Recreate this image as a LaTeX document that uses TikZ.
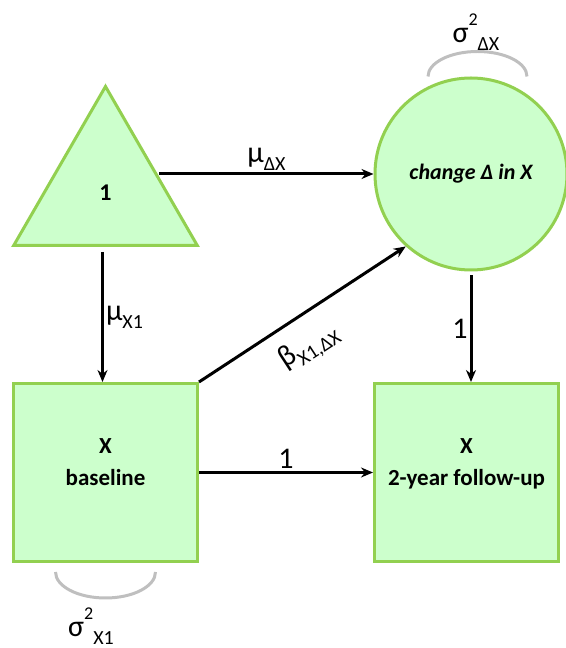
\documentclass[tikz,border=0pt]{standalone}
\usepackage{fontspec}
\setmainfont{Carlito}
\usetikzlibrary{arrows.meta}
\usetikzlibrary{shapes.geometric}
\usetikzlibrary{positioning}
\definecolor{boxfill}{HTML}{CCFFCC}
\definecolor{boxline}{HTML}{92D050}
\definecolor{vargray}{HTML}{BFBFBF}
\def\sublab#1{\raisebox{-0.55ex}{\fontsize{20}{20}\selectfont #1}}
\def\suplab#1{\raisebox{1.15ex}{\fontsize{18}{18}\selectfont #1}}

\begin{document}
\begin{tikzpicture}[x=1pt,y=1pt,->,>={Stealth[length=12pt,width=10pt]},
		line width=3pt,auto,
		lbl/.style={font=\fontsize{30}{32}\selectfont,inner sep=2pt},
		var/.style={-,draw=vargray,line width=3pt}]
		\tikzstyle{every node}=[]
		\tikzstyle{obs}=[draw=boxline,fill=boxfill,line width=3pt,
			minimum width=184pt,minimum height=178pt,align=center,text depth=20pt,
			font=\fontsize{23}{32}\selectfont\bfseries]
		\useasboundingbox (0,0) rectangle (565,648);
		
		\node[obs] (base) at (105.5,175.5)         {X\\baseline};
		\node[obs] (follow) [right=174pt of base] {X\\2-year follow-up};
		\node[regular polygon,regular polygon sides=3,minimum size=212pt,
			draw=boxline,fill=boxfill,line width=3pt,
			font=\fontsize{24}{26}\selectfont\bfseries]
			(tri) [above=135pt of base]             {1};
		\node[circle,minimum size=192pt,draw=boxline,fill=boxfill,line width=3pt,
			font=\fontsize{22}{24}\selectfont\bfseries\itshape]
			(circ) at (471,474)                    {change Δ in X};
		
		\coordinate (t0) at ([xshift=-9pt]tri.east);
		\path
		(t0 |- circ.west) edge node[lbl,above] {μ\sublab{ΔX}} (circ.west)
		([xshift=-3pt,yshift=-5pt]tri.south) edge node[lbl,right] {μ\sublab{X1}} ([xshift=-3pt]tri.south |- base.north)
		(base.north east) edge node[lbl,pos=.45,sloped,below=12pt] {β\sublab{X1,ΔX}} (circ.228)
		([yshift=-4pt]circ.south) edge node[lbl,left] {1} (circ.south |- follow.north)
		(base.east) edge node[lbl,above] {1} (follow.west);
		
		% variances
		\draw[var] ([xshift=-43pt,yshift=0pt]circ.north) arc[start angle=180,end angle=0,x radius=49.5pt,y radius=25pt];
		\draw[var] ([xshift=-50pt,yshift=-9pt]base.south) arc[start angle=180,end angle=360,x radius=50pt,y radius=26pt];
		\node[lbl] (vchange) at (476,616) {σ\suplab{2}\sublab{ΔX}};
		\node[lbl] (vbase) at (91,22) {σ\suplab{2}\sublab{X1}};
\end{tikzpicture}
\end{document}
